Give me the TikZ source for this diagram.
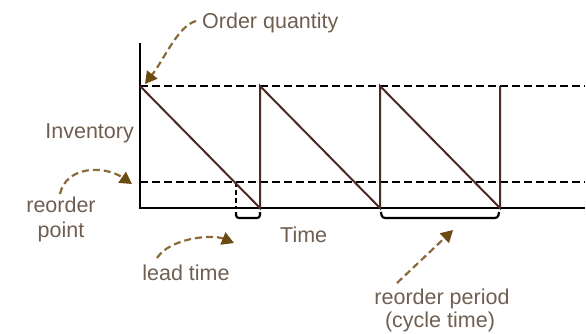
\documentclass[tikz,border=0pt]{standalone}
\usepackage{fontspec}
\setmainfont{Liberation Sans}
\usetikzlibrary{arrows.meta}
\definecolor{txt}{HTML}{6E5F50}
\definecolor{arr}{HTML}{8A6A3A}
\definecolor{arrh}{HTML}{6B4A12}
\definecolor{saw}{HTML}{4A2A22}
\tikzset{
  lbl/.style={inner sep=0pt, text=txt, font=\fontsize{21.5}{25}\selectfont},
  guide/.style={dashed, dash pattern=on 8pt off 4pt, line width=2.2pt, black},
  callout/.style={arr, line width=2.2pt, dash pattern=on 7pt off 4pt,
    -{Triangle[length=12pt,width=13pt,fill=arrh,color=arrh]}},
  axis/.style={line width=2pt, black},
  sawline/.style={line width=2pt, saw},
  brk/.style={line width=2.2pt, black, rounded corners=3pt},
}
\begin{document}
\begin{tikzpicture}[x=1pt,y=-1pt]
\useasboundingbox (0,0) rectangle (586,333);
% key points
\coordinate (o) at (140,208);
\coordinate (ytop) at (140,43);
\coordinate (xend) at (585,208);
\coordinate (q0) at (140,86);
\coordinate (qend) at (585,86);
\coordinate (r0) at (140,182);
\coordinate (rend) at (585,182);
\coordinate (b1) at (260,208);
\coordinate (t1) at (260,86);
\coordinate (b2) at (380,208);
\coordinate (t2) at (380,86);
\coordinate (b3) at (500,208);
\coordinate (t3) at (500,86);
\coordinate (lx) at (236,182);
\coordinate (lxb) at (236,208);
% guides
\draw[guide] (q0) -- (qend);
\draw[guide] (r0) -- (rend);
\draw[guide, line width=2.2pt, dash pattern=on 5pt off 3pt] (lx) -- (lxb);
% axes
\draw[axis] (ytop) -- (o) -- (xend);
% sawtooth
\draw[sawline] (q0) -- (b1) -- (t1) -- (b2) -- (t2) -- (b3) -- (t3);
% brackets
\coordinate (lb1) at (236,212);
\coordinate (lb2) at (260,212);
\draw[brk] (lb1) -- (236,218) -- (260,218) -- (lb2);
\coordinate (pb1) at (381,212);
\coordinate (pb2) at (499,212);
\draw[brk] (pb1) -- (382,218) -- (498,218) -- (pb2);
% labels
\node[lbl, anchor=base west] (oq) at (202,28) {Order quantity};
\node[lbl, anchor=base east] (inv) at (134,138) {Inventory};
\node[lbl, anchor=base] (rp1) at (61,212) {reorder};
\node[lbl, anchor=base] (rp2) at (61,237) {point};
\node[lbl, anchor=base] (lt) at (186,280) {lead time};
\node[lbl, anchor=base west] (time) at (280,242) {Time};
\node[lbl, anchor=base] (per1) at (442,304) {reorder period};
\node[lbl, anchor=base] (per2) at (440,327) {(cycle time)};
% callouts
\coordinate (oqs) at (196,21);
\coordinate (oqe) at (145,84);
\draw[callout] (oqs) .. controls (178,26) and (165,58) .. (oqe);
\coordinate (rps) at (60,194);
\coordinate (rpe) at (132,184);
\draw[callout] (rps) .. controls (66,166) and (104,165) .. (rpe);
\coordinate (lts) at (157,258);
\coordinate (lte) at (234,243);
\draw[callout] (lts) .. controls (170,238) and (212,234) .. (lte);
\coordinate (pps) at (397,283);
\coordinate (ppe) at (453,230);
\draw[callout] (pps) -- (ppe);
\end{tikzpicture}
\end{document}
